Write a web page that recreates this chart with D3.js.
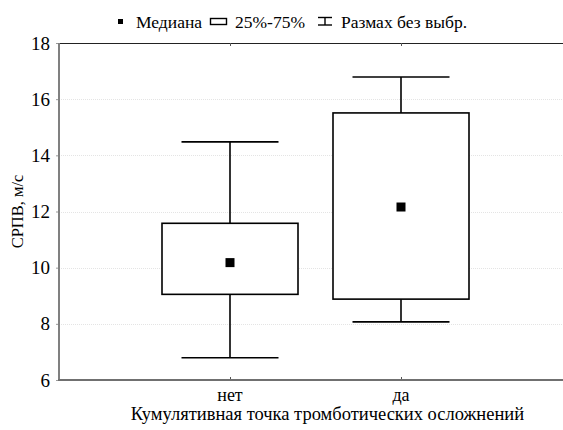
<!DOCTYPE html>
<html>
<head>
<meta charset="utf-8">
<script src="https://cdn.jsdelivr.net/npm/d3@7"></script>
<style>
  body { margin: 0; background: #fff; }
  svg { display: block; }
</style>
</head>
<body>
<svg id="chart"></svg>
<script>
// categories and box statistics
var categories = ["нет", "да"];
var medians = [10.18, 12.16];
var q1 = [9.05, 8.88];
var q3 = [11.58, 15.51];
var mins = [6.79, 8.07];
var maxs = [14.48, 16.79];
var yTicks = [6, 8, 10, 12, 14, 16, 18];

var width = 563, height = 430;
var plotLeft = 59, plotTop = 43, plotBottom = 380, plotRight = 563;
var serif = "'Liberation Serif', 'Times New Roman', serif";

var svg = d3.select("#chart")
    .attr("width", width)
    .attr("height", height);

// plain serif text at (x, y)
function label(parent, x, y, str, size, anchor) {
    return parent.append("text")
        .attr("x", x)
        .attr("y", y)
        .attr("text-anchor", anchor || "start")
        .attr("font-size", size)
        .style("font-family", serif)
        .attr("fill", "#000")
        .text(str);
}

var x = d3.scalePoint()
    .domain(categories)
    .range([plotLeft, plotLeft + 3 * 171])
    .padding(1);

var y = d3.scaleLinear()
    .domain([6, 18])
    .range([plotBottom, plotTop]);

// grid lines
svg.selectAll()
    .data(yTicks.filter(function(d) { return d > 6 && d < 18; }))
    .enter()
    .append("line")
    .attr("x1", plotLeft)
    .attr("x2", plotRight)
    .attr("y1", function(d) { return Math.round(y(d)) + 0.5; })
    .attr("y2", function(d) { return Math.round(y(d)) + 0.5; })
    .attr("stroke", "#e4e4e4")
    .attr("stroke-width", 1)
    .attr("stroke-dasharray", "1,1");

// frame: top line
svg.append("line")
    .attr("x1", plotLeft).attr("x2", plotRight)
    .attr("y1", plotTop + 0.5).attr("y2", plotTop + 0.5)
    .attr("stroke", "#222")
    .attr("stroke-width", 1.2);

// category ticks on top and bottom
categories.forEach(function(c) {
    var cx = Math.round(x(c)) + 0.5;
    svg.append("line")
        .attr("x1", cx).attr("x2", cx)
        .attr("y1", plotTop).attr("y2", plotTop + 3)
        .attr("stroke", "#555");
    svg.append("line")
        .attr("x1", cx).attr("x2", cx)
        .attr("y1", plotBottom).attr("y2", plotBottom - 3)
        .attr("stroke", "#555");
});

// y axis
var yAxis = svg.append("g")
    .attr("transform", "translate(" + plotLeft + ",0)")
    .call(d3.axisLeft(y).tickValues(yTicks).tickSize(3).tickPadding(6));
yAxis.select(".domain").remove();
yAxis.selectAll(".tick line").attr("stroke", "#999");
yAxis.selectAll(".tick text")
    .attr("font-size", 19)
    .style("font-family", serif)
    .attr("fill", "#000");

// left and bottom axis lines
svg.append("line")
    .attr("x1", plotLeft).attr("x2", plotLeft)
    .attr("y1", plotTop).attr("y2", plotBottom)
    .attr("stroke", "#808080")
    .attr("stroke-width", 2);
svg.append("line")
    .attr("x1", plotLeft - 1).attr("x2", plotRight)
    .attr("y1", plotBottom).attr("y2", plotBottom)
    .attr("stroke", "#707070")
    .attr("stroke-width", 2);

// x labels
categories.forEach(function(c) {
    label(svg, x(c), 401, c, 18, "middle");
});
label(svg, 327.5, 420, "Кумулятивная точка тромботических осложнений", 18.5, "middle");

svg.append("text")
    .attr("transform", "translate(23," + ((plotTop + plotBottom) / 2) + ") rotate(-90)")
    .attr("text-anchor", "middle")
    .attr("font-size", 16.5)
    .style("font-family", serif)
    .text("СРПВ, м/с");

// box plots
var data = categories.map(function(c, i) {
    return {cat: c, med: medians[i], q1: q1[i], q3: q3[i], lo: mins[i], hi: maxs[i]};
});
var boxW = 136, capW = 97;

var g = svg.selectAll("g.box")
    .data(data)
    .enter()
    .append("g")
    .attr("class", "box");

g.append("line")
    .attr("x1", function(d) { return x(d.cat); })
    .attr("x2", function(d) { return x(d.cat); })
    .attr("y1", function(d) { return y(d.hi); })
    .attr("y2", function(d) { return y(d.lo); })
    .attr("stroke", "#000").attr("stroke-width", 1.6);

["hi", "lo"].forEach(function(k) {
    g.append("line")
        .attr("x1", function(d) { return x(d.cat) - capW / 2; })
        .attr("x2", function(d) { return x(d.cat) + capW / 2; })
        .attr("y1", function(d) { return y(d[k]); })
        .attr("y2", function(d) { return y(d[k]); })
        .attr("stroke", "#000").attr("stroke-width", 1.6);
});

g.append("rect")
    .attr("x", function(d) { return x(d.cat) - boxW / 2; })
    .attr("y", function(d) { return y(d.q3); })
    .attr("width", boxW)
    .attr("height", function(d) { return y(d.q1) - y(d.q3); })
    .attr("fill", "#fff")
    .attr("stroke", "#000").attr("stroke-width", 1.6);

g.append("rect")
    .attr("x", function(d) { return x(d.cat) - 4.5; })
    .attr("y", function(d) { return y(d.med) - 4.5; })
    .attr("width", 9).attr("height", 9)
    .attr("fill", "#000");

// legend
var lg = svg.append("g");
lg.append("rect").attr("x", 118).attr("y", 19).attr("width", 5).attr("height", 5).attr("fill", "#000");
label(lg, 136, 27.5, "Медиана", 17.5);
lg.append("rect").attr("x", 210.5).attr("y", 18.5).attr("width", 16).attr("height", 6)
    .attr("fill", "none").attr("stroke", "#000").attr("stroke-width", 1.4);
label(lg, 235, 27.5, "25%-75%", 17.5);
lg.append("line").attr("x1", 318).attr("x2", 332).attr("y1", 17.5).attr("y2", 17.5).attr("stroke", "#000").attr("stroke-width", 1.4);
lg.append("line").attr("x1", 318).attr("x2", 332).attr("y1", 25).attr("y2", 25).attr("stroke", "#000").attr("stroke-width", 1.4);
lg.append("line").attr("x1", 325).attr("x2", 325).attr("y1", 17.5).attr("y2", 25).attr("stroke", "#000").attr("stroke-width", 1.4);
label(lg, 341, 27.5, "Размах без выбр.", 17.5);
</script>
</body>
</html>
